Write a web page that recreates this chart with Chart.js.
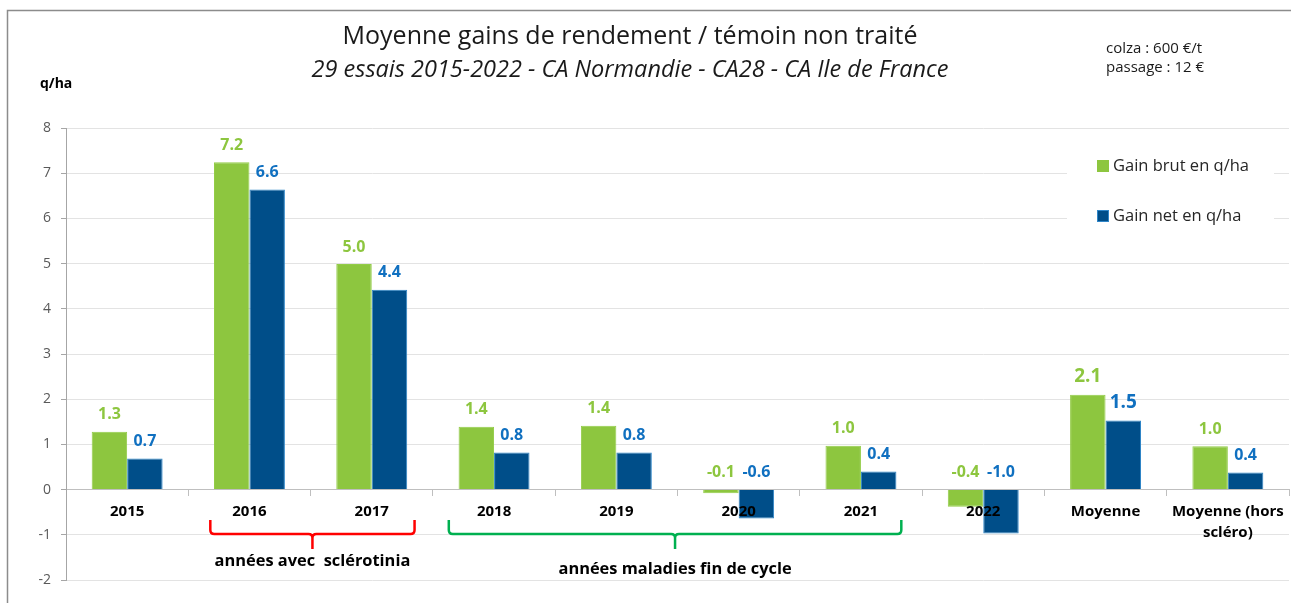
<!DOCTYPE html>
<html><head><meta charset="utf-8">
<script src="https://cdn.jsdelivr.net/npm/chart.js@4.4.1/dist/chart.umd.min.js"></script>
<style>html,body{margin:0;padding:0;background:#fff;overflow:hidden}canvas{display:block}</style>
</head><body>
<canvas id="c" width="1291" height="603"></canvas>
<script>
// ---------- data ----------
const categories = ['2015','2016','2017','2018','2019','2020','2021','2022','Moyenne',['Moyenne (hors','scléro)']];
const gainBrut = [1.28, 7.24, 4.99, 1.39, 1.41, -0.08, 0.97, -0.38, 2.10, 0.96];
const gainNet  = [0.69, 6.64, 4.42, 0.82, 0.82, -0.64, 0.40, -0.97, 1.53, 0.38];
const seriesNames = ['Gain brut en q/ha', 'Gain net en q/ha'];
const yMin = -2, yMax = 8, yStep = 1;
const titleText = 'Moyenne gains de rendement / témoin non traité';
const subtitleText = '29 essais 2015-2022 - CA Normandie - CA28 - CA Ile de France';
const unitText = 'q/ha';
const noteLines = ['colza : 600 €/t', 'passage : 12 €'];
const groupLabels = ['années avec  sclérotinia', 'années maladies fin de cycle'];
const groupFrom = [1, 3];
const groupTo = [2, 6];
const highlightIndex = 8;

// ---------- styles ----------
const FONT = '"Open Sans", "Noto Sans", sans-serif';
const GREEN = '#8DC63F', BLUE = '#004E89';
const GREEN_LBL = '#8DC63F', BLUE_LBL = '#1070C0';
const groupColors = ['#FF0000', '#00B050'];
const groupTextY = [561, 569];
const groupPadL = [0.32, 0.37];
const groupPadR = [0.35, 0.33];

const overlay = {
  id: 'overlay',
  beforeDraw(chart) {
    const c = chart.ctx;
    c.save(); c.fillStyle = '#fff'; c.fillRect(0, 0, chart.width, chart.height); c.restore();
  },
  afterDatasetsDraw(chart) {
    const c = chart.ctx;
    const y0 = chart.scales.y.getPixelForValue(0);
    c.save();
    c.textAlign = 'center'; c.textBaseline = 'middle';
    chart.data.datasets.forEach((ds, di) => {
      const meta = chart.getDatasetMeta(di);
      meta.data.forEach((bar, i) => {
        const v = ds.data[i];
        const big = i === highlightIndex;
        c.font = 'bold ' + (big ? 19 : 16) + 'px ' + FONT;
        c.fillStyle = di === 0 ? GREEN_LBL : BLUE_LBL;
        const top = v >= 0 ? bar.y : y0;
        c.fillText(v.toFixed(1), bar.x, top - (big ? 18 : 17));
      });
    });
    c.restore();
  },
  afterDraw(chart) {
    const c = chart.ctx;
    const xs = chart.scales.x;
    c.save();
    // outer frame
    c.strokeStyle = '#8c8c8c'; c.lineWidth = 1.5;
    c.strokeRect(7.5, 10.5, 1400, 700);
    // titles
    c.fillStyle = '#1a1a1a'; c.textAlign = 'center'; c.textBaseline = 'middle';
    c.font = '25px ' + FONT; c.fillText(titleText, 630, 37);
    c.font = 'italic 23.5px ' + FONT; c.fillText(subtitleText, 630, 70);
    // unit
    c.textAlign = 'left'; c.font = 'bold 14px ' + FONT; c.fillStyle = '#000';
    c.fillText(unitText, 40, 84);
    // note
    c.font = '15px ' + FONT; c.fillStyle = '#1a1a1a';
    noteLines.forEach((t, i) => c.fillText(t, 1106, 49 + i * 19));
    // legend
    c.fillStyle = '#fff'; c.fillRect(1067, 140, 207, 100);
    chart.data.datasets.forEach((ds, i) => {
      const cy = 166 + i * 50;
      c.fillStyle = ds.backgroundColor; c.fillRect(1097, cy - 6, 12, 12);
      if (i === 1) { c.strokeStyle = ds.borderColor; c.lineWidth = 1; c.strokeRect(1097.5, cy - 5.5, 11, 11); }
      c.fillStyle = '#262626'; c.font = '16.5px ' + FONT; c.textAlign = 'left';
      c.fillText(ds.label, 1113, cy);
    });
    // brackets
    const cw = xs.getPixelForValue(1) - xs.getPixelForValue(0);
    groupLabels.forEach((lbl, g) => {
      const L = xs.getPixelForValue(groupFrom[g]) - groupPadL[g] * cw;
      const R = xs.getPixelForValue(groupTo[g]) + groupPadR[g] * cw;
      const M = (L + R) / 2;
      c.strokeStyle = groupColors[g]; c.lineWidth = 2.5; c.lineJoin = 'round'; c.lineCap = 'butt';
      c.beginPath();
      c.moveTo(L, 520); c.lineTo(L, 530); c.quadraticCurveTo(L, 534, L + 4, 534);
      c.lineTo(M - 4, 534); c.quadraticCurveTo(M, 534, M, 538); c.lineTo(M, 549);
      c.moveTo(M, 538); c.quadraticCurveTo(M, 534, M + 4, 534);
      c.lineTo(R - 4, 534); c.quadraticCurveTo(R, 534, R, 530); c.lineTo(R, 520);
      c.stroke();
      c.fillStyle = '#000'; c.font = 'bold 16.4px ' + FONT; c.textAlign = 'center';
      c.fillText(lbl, M, groupTextY[g]);
    });
    c.restore();
  }
};

new Chart(document.getElementById('c'), {
  type: 'bar',
  data: {
    labels: categories,
    datasets: [
      {label: seriesNames[0], data: gainBrut, backgroundColor: GREEN, borderColor: '#93CC48', borderWidth: 1},
      {label: seriesNames[1], data: gainNet, backgroundColor: BLUE, borderColor: '#2F86C8', borderWidth: 1}
    ]
  },
  options: {
    responsive: false,
    devicePixelRatio: 1,
    animation: false,
    categoryPercentage: 0.58,
    barPercentage: 1.0,
    layout: {padding: {top: 128, left: 0, right: 2, bottom: 23}},
    plugins: {legend: {display: false}, title: {display: false}, tooltip: {enabled: false}},
    scales: {
      x: {
        position: {y: 0},
        offset: true,
        grid: {display: true, drawOnChartArea: false, drawTicks: true, tickLength: 6, color: '#bfbfbf', offset: true},
        border: {display: true, color: '#bfbfbf', width: 1},
        ticks: {z: 1, autoSkip: false, maxRotation: 0, minRotation: 0, padding: 6, color: '#000',
                font: {family: FONT, size: 15, weight: 'bold', lineHeight: 1.4}}
      },
      y: {
        min: yMin, max: yMax,
        afterFit(scale) { scale.width = 66; },
        grid: {color: '#e3e3e3', tickLength: 5, tickColor: '#a6a6a6'},
        border: {display: true, color: '#a6a6a6', width: 1},
        ticks: {stepSize: yStep, padding: 10, color: '#595959', font: {family: FONT, size: 14}}
      }
    }
  },
  plugins: [overlay]
});
</script>
</body></html>
